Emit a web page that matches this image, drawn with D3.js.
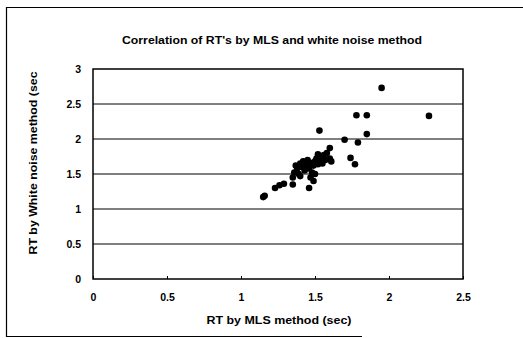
<!DOCTYPE html>
<html>
<head>
<meta charset="utf-8">
<script src="https://cdn.jsdelivr.net/npm/d3@7"></script>
<style>
  body { margin: 0; background: #fff; }
  text { font-family: "Liberation Sans", Arial, sans-serif; font-weight: bold; fill: #000; }
</style>
</head>
<body>
<div id="chart"></div>
<script>
const title = "Correlation of RT's by MLS and white noise method";
const xTitle = "RT by MLS method (sec)";
const yTitle = "RT by White noise method (sec";
const xTicks = [0, 0.5, 1, 1.5, 2, 2.5];
const yTicks = [0, 0.5, 1, 1.5, 2, 2.5, 3];

// RT by MLS method (x) and by white noise method (y)
const mlsRT = [
    1.95, 1.78, 1.85, 2.27, 1.53, 1.85, 1.70, 1.79, 1.60, 1.74, 1.77,
    1.49, 1.46, 1.35, 1.26, 1.23, 1.16, 1.15, 1.29,
    1.37, 1.38, 1.40, 1.41, 1.42, 1.43, 1.44, 1.45, 1.46, 1.47, 1.48,
    1.49, 1.50, 1.51, 1.52, 1.53, 1.54, 1.55, 1.57, 1.58, 1.60, 1.61,
    1.36, 1.39, 1.35, 1.40, 1.50, 1.47, 1.56, 1.44, 1.52
];
const noiseRT = [
    2.73, 2.34, 2.34, 2.33, 2.12, 2.07, 1.99, 1.95, 1.87, 1.73, 1.64,
    1.40, 1.30, 1.35, 1.34, 1.30, 1.19, 1.17, 1.36,
    1.62, 1.58, 1.65, 1.60, 1.68, 1.55, 1.63, 1.70, 1.58, 1.66, 1.52,
    1.62, 1.68, 1.72, 1.78, 1.70, 1.75, 1.65, 1.70, 1.80, 1.72, 1.68,
    1.52, 1.50, 1.45, 1.47, 1.50, 1.45, 1.77, 1.66, 1.64
];

const W = 523, H = 338;
const plot = { left: 93, right: 463, top: 69, bottom: 279 };

const svg = d3.select("#chart").append("svg")
    .attr("width", W)
    .attr("height", H);

// outer frame (left, top, bottom)
svg.append("path")
    .attr("d", "M523,7.5H6.5V336.5H362")
    .attr("fill", "none")
    .attr("stroke", "#000")
    .attr("stroke-width", 1.2);

const x = d3.scaleLinear().domain([0, 2.5]).range([plot.left, plot.right]);
const y = d3.scaleLinear().domain([0, 3]).range([plot.bottom, plot.top]);

// grid lines
svg.append("g")
    .selectAll("line")
    .data(yTicks.slice(1, -1))
    .join("line")
    .attr("x1", plot.left).attr("x2", plot.right)
    .attr("y1", d => y(d)).attr("y2", d => y(d))
    .attr("stroke", "#000")
    .attr("stroke-width", 1);

// plot box
svg.append("rect")
    .attr("x", plot.left).attr("y", plot.top)
    .attr("width", plot.right - plot.left)
    .attr("height", plot.bottom - plot.top)
    .attr("fill", "none")
    .attr("stroke", "#000")
    .attr("stroke-width", 1.5);

// x axis
const xAxis = svg.append("g")
    .attr("transform", `translate(0,${plot.bottom})`)
    .call(d3.axisBottom(x).tickValues(xTicks).tickSize(-3).tickPadding(15).tickFormat(d3.format("")));
xAxis.select(".domain").remove();
xAxis.selectAll("text").attr("font-size", 10.5).style("font-family", null);

// y axis
const yAxis = svg.append("g")
    .attr("transform", `translate(${plot.left},0)`)
    .call(d3.axisLeft(y).tickValues(yTicks).tickSize(0).tickPadding(12).tickFormat(d3.format("")));
yAxis.select(".domain").remove();
yAxis.selectAll("text").attr("font-size", 10.5).style("font-family", null);

// points
svg.append("g")
    .selectAll("circle")
    .data(mlsRT.map((v, i) => [v, noiseRT[i]]))
    .join("circle")
    .attr("cx", d => x(d[0]))
    .attr("cy", d => y(d[1]))
    .attr("r", 3.3)
    .attr("fill", "#000");

// titles
svg.append("text")
    .attr("x", 272).attr("y", 44)
    .attr("text-anchor", "middle")
    .attr("font-size", 10.5)
    .attr("textLength", 300)
    .attr("lengthAdjust", "spacingAndGlyphs")
    .text(title);

svg.append("text")
    .attr("x", 279).attr("y", 324)
    .attr("text-anchor", "middle")
    .attr("font-size", 11)
    .attr("textLength", 145)
    .attr("lengthAdjust", "spacingAndGlyphs")
    .text(xTitle);

svg.append("text")
    .attr("transform", "translate(37,163) rotate(-90)")
    .attr("text-anchor", "middle")
    .attr("font-size", 11)
    .attr("textLength", 183)
    .attr("lengthAdjust", "spacingAndGlyphs")
    .text(yTitle);
</script>
</body>
</html>
